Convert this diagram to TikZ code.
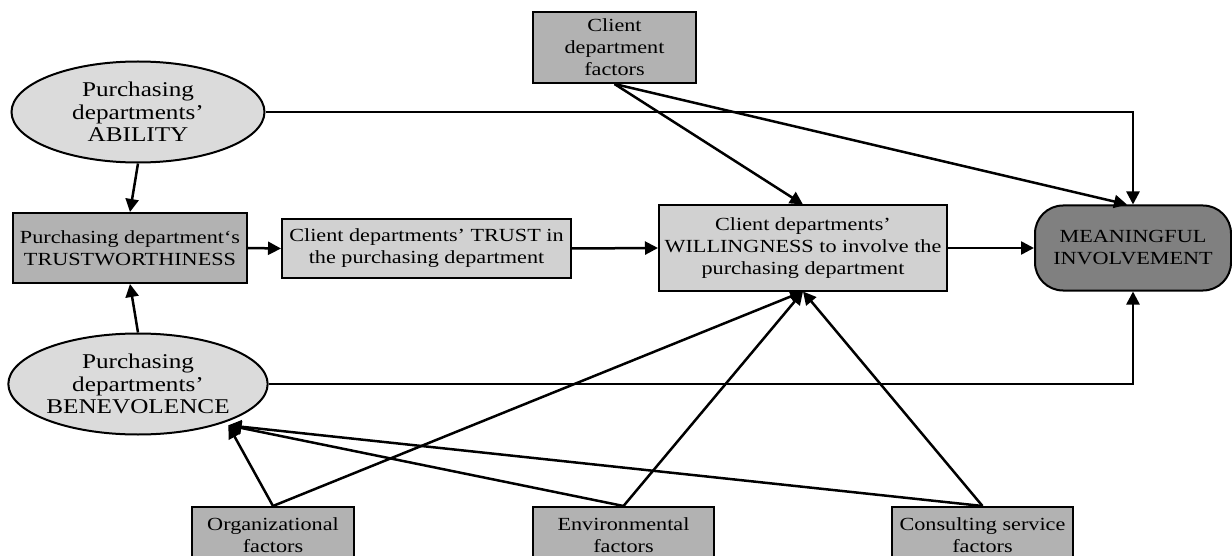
\documentclass[tikz,border=0pt]{standalone}
\usepackage{fontspec}
\setmainfont[FakeStretch=1.2]{Liberation Serif}
\usetikzlibrary{shapes.geometric,arrows.meta,calc}

\definecolor{darkfill}{gray}{0.70}
\definecolor{lightfill}{gray}{0.82}
\definecolor{ellfill}{gray}{0.86}
\definecolor{outfill}{gray}{0.50}

\begin{document}
\begin{tikzpicture}[x=1pt,y=-1pt,
  base/.style={draw=black,line width=2pt,align=center,inner sep=0pt,
               font=\fontsize{18.5}{22}\selectfont},
  ell/.style={base,ellipse,fill=ellfill,minimum width=253pt,minimum height=101pt,
              font=\fontsize{21}{22.5}\selectfont},
  darkbox/.style={base,rectangle,fill=darkfill},
  lightbox/.style={base,rectangle,fill=lightfill},
  outcome/.style={base,rectangle,rounded corners=28pt,fill=outfill},
  link/.style={line width=2.5pt,-{Triangle[length=13pt,width=13pt]}}]

\fill[white] (0,0) rectangle (1232,556);
\useasboundingbox (0,0) rectangle (1232,556);
\clip (0,0) rectangle (1232,556);

% antecedents of trustworthiness
\node[ell] (abil) at (138,112) {Purchasing\\departments'\\ABILITY};
\node[ell] (bene) at (138,384) {Purchasing\\departments'\\BENEVOLENCE};

% main chain
\node[darkbox,minimum width=234pt,minimum height=70pt] (trw) at (130,248)
  {Purchasing department`s\\TRUSTWORTHINESS};
\node[lightbox,minimum width=289pt,minimum height=59pt] (trust) at (426.5,248.5)
  {Client departments' TRUST in\\the purchasing department};
\node[lightbox,minimum width=288pt,minimum height=85pt] (will) at (803,248)
  {Client departments'\\WILLINGNESS to involve the\\purchasing department};
\node[outcome,minimum width=196pt,minimum height=85pt] (mi) at (1133,248)
  {MEANINGFUL\\INVOLVEMENT};

% contextual factors
\node[darkbox,minimum width=163pt,minimum height=71pt] (cdf) at (614.5,47.5)
  {Client\\department\\factors};
\node[darkbox,minimum width=162pt,minimum height=56pt] (org) at (273,535)
  {Organizational\\factors};
\node[darkbox,minimum width=181pt,minimum height=56pt] (env) at (623.5,535)
  {Environmental\\factors};
\node[darkbox,minimum width=181pt,minimum height=56pt] (cons) at (982.5,535)
  {Consulting service\\factors};

% connectors
\draw[link] (abil.south) -- (trw.north);
\draw[link] (bene.north) -- (trw.south);
\draw[link] (trw.east) -- (trust.west);
\draw[link] (trust.east) -- (will.west);
\draw[link] (will.east) -- (mi.west);
\draw[link] (cdf.south) -- (will.north);
\draw[link] (cdf.south) -- ($(mi.north)+(-6,0)$);
\draw[link] (abil.east) -| (mi.north);
\draw[link] (bene.east) -| (mi.south);

\coordinate (bp) at ($(bene.-25)+(6,2)$);
\draw[link] (org.north) -- (bp);
\draw[link] (env.north) -- (bp);
\draw[link] (cons.north) -- (bp);
\draw[link] (org.north) -- (will.south);
\draw[link] (env.north) -- (will.south);
\draw[link] (cons.north) -- (will.south);
\end{tikzpicture}
\end{document}
